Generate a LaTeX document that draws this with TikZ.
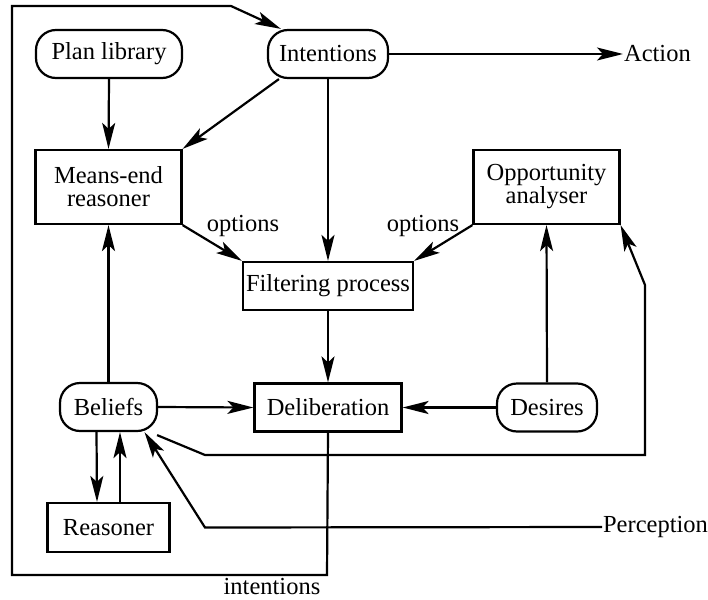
\documentclass[tikz,border=0pt]{standalone}
\usepackage{fontspec}
\setmainfont{Liberation Serif}
\usetikzlibrary{arrows.meta,calc}
\begin{document}
\begin{tikzpicture}[x=1pt,y=-1pt,
  line width=2.2pt,
  >={Stealth[length=26pt,width=13pt,inset=6pt]},
  every node/.style={font=\fontsize{24.5}{24}\selectfont, inner sep=0pt, align=center},
  pill/.style={draw, rounded corners=20pt, minimum height=48pt},
  boxed/.style={draw, rectangle, minimum height=48pt},
  tall/.style={draw, rectangle, minimum height=74pt, minimum width=146pt},
  lbl/.style={inner sep=0pt}]
\useasboundingbox (0,0) rectangle (708,599);

% nodes
\node[pill, minimum width=146pt] (plan) at (109,54) {Plan library};
\node[pill, minimum width=120pt] (int) at (328,54) {Intentions};
\node[lbl, anchor=west] (act) at (623,54) {Action};
\node[tall] (me) at (108.5,187) {Means-end\\[-1pt]reasoner};
\node[tall] (opp) at (546.5,187) {Opportunity\\[-1pt]analyser};
\node[boxed, minimum width=170pt] (filt) at (328,286) {Filtering process};
\node[boxed, minimum width=147pt] (delib) at (328,407.5) {Deliberation};
\node[pill, minimum width=97pt] (bel) at (108.5,407) {Beliefs};
\node[pill, minimum width=100pt] (des) at (547,407.5) {Desires};
\node[boxed, minimum width=122pt, minimum height=49pt] (reas) at (108.5,527.5) {Reasoner};
\node[lbl, anchor=west] (perc) at (602,527) {Perception};
\node[lbl] (optl) at (243,226) {options};
\node[lbl] (optr) at (423,226) {options};
\node[lbl] (intl) at (272,586) {intentions};

% connectors
\draw[->] (int.east) -- (act.west);
\draw[->] (plan.south) -- (me.north);
\draw[->] ([xshift=12pt]int.south west) -- (me.north east);
\draw[->] (int.south) -- (filt.north);
\draw[->] (me.south east) -- (filt.north west);
\draw[->] (opp.south west) -- (filt.north east);
\draw[->] (filt.south) -- (delib.north);
\draw[->] (bel.east) -- (delib.west);
\draw[->] (des.west) -- (delib.east);
\draw[->] (bel.north) -- (me.south);
\draw[->] (des.north) -- (opp.south);
\draw[->] ([xshift=-12pt]bel.south) -- ([xshift=-11.5pt]reas.north);
\draw[->] ([xshift=11.5pt]reas.north) -- ([xshift=11.5pt]bel.south);
\draw[->] ([xshift=-1pt,yshift=-3pt]bel.south east) -- (205,455) -- (645,455) -- (645,285) -- (opp.south east);
\draw[->] (perc.west) -- (205,527.5) -- ([xshift=36pt]bel.south);
\draw[->] (delib.south) -- (327,575) -- (12,575) -- (12,6) -- (231,6) -- ([xshift=14pt]int.north west);
\end{tikzpicture}
\end{document}
